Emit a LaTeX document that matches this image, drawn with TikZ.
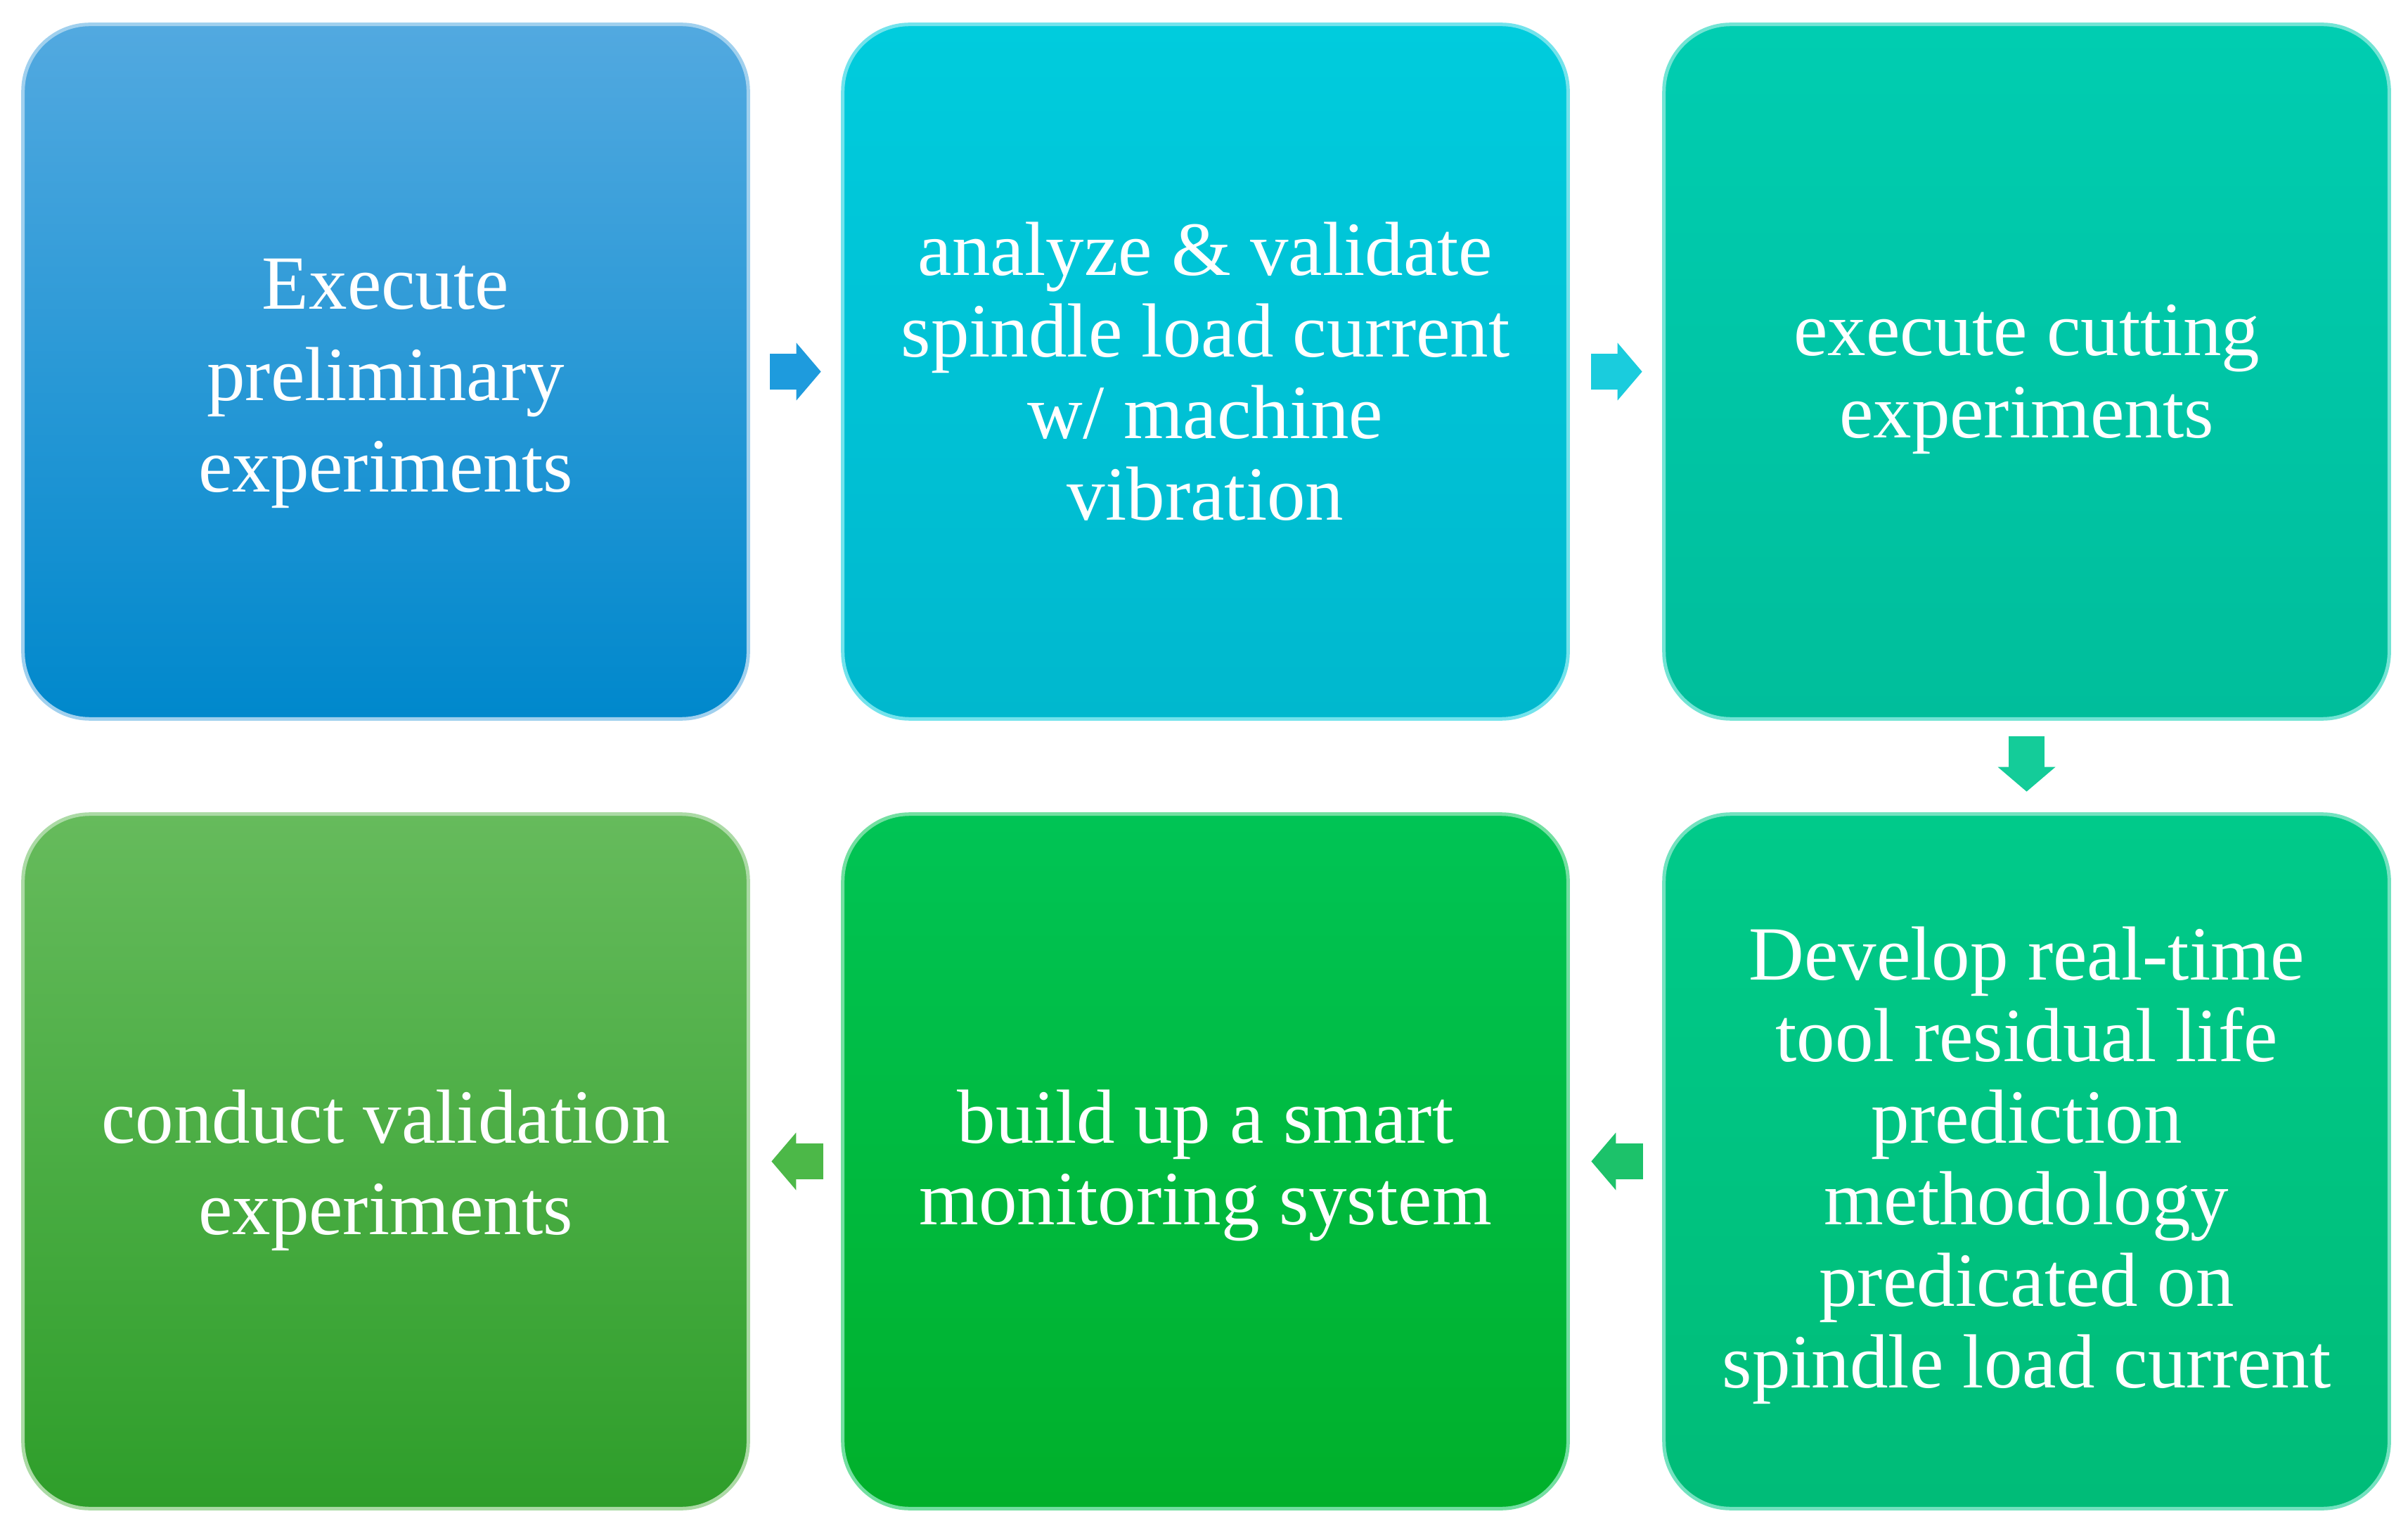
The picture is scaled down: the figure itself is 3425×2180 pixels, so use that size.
\documentclass[tikz,border=0pt]{standalone}
\usepackage{fontspec}
\setmainfont{Liberation Serif}
\usetikzlibrary{arrows.meta}
\definecolor{aTop}{HTML}{52A9E0}\definecolor{aBot}{HTML}{0088CC}
\definecolor{bTop}{HTML}{00CCDD}\definecolor{bBot}{HTML}{00B8CE}
\definecolor{cTop}{HTML}{00CDB1}\definecolor{cBot}{HTML}{00BE9B}
\definecolor{dTop}{HTML}{00CA8A}\definecolor{dBot}{HTML}{00BC78}
\definecolor{eTop}{HTML}{00C455}\definecolor{eBot}{HTML}{00B02A}
\definecolor{fTop}{HTML}{66BB5C}\definecolor{fBot}{HTML}{2E9E2A}
\definecolor{arA}{HTML}{1E9BDD}\definecolor{arB}{HTML}{1ACCDD}
\definecolor{arC}{HTML}{14CC99}\definecolor{arD}{HTML}{1CC26A}
\definecolor{arE}{HTML}{4CB848}
\tikzset{
  stepbox/.style n args={2}{rectangle, rounded corners=0.95cm,
    minimum width=10.31cm, minimum height=9.87cm, inner sep=0pt, outer sep=0pt,
    top color=#1, bottom color=#2, draw=#1!55!white, line width=0.05cm},
  txt/.style={text=white, align=center, inner sep=0pt, font=\fontsize{31pt}{33pt}\selectfont},
  txtwide/.style={txt, font=\fontsize{31pt}{37pt}\selectfont},
  blockarrow/.style={line width=0.51cm, draw=#1,
    -{Triangle[width=0.8cm,length=0.35cm,fill=#1]}}
}
\begin{document}
\begin{tikzpicture}[x=0.01cm,y=-0.01cm]
\useasboundingbox (0,0) rectangle (3425,2180);
\fill[white] (0,0) rectangle (3425,2180);
\node[stepbox={aTop}{aBot}] (n1) at (548.5,528.5) {};
\node[stepbox={bTop}{bBot}] (n2) at (1714.5,528.5) {};
\node[stepbox={cTop}{cBot}] (n3) at (2882.5,528.5) {};
\node[stepbox={dTop}{dBot}] (n4) at (2882.5,1651.5) {};
\node[stepbox={eTop}{eBot}] (n5) at (1714.5,1651.5) {};
\node[stepbox={fTop}{fBot}] (n6) at (548.5,1651.5) {};
\node[txtwide, yshift=-0.17cm] (t1) at (n1.center) {Execute\\preliminary\\experiments};
\node[txt] (t2) at (n2.center) {analyze \& validate\\spindle load current\\w/ machine\\vibration};
\node[txt, yshift=-0.11cm] (t3) at (n3.center) {execute cutting\\experiments};
\node[txt, yshift=-0.06cm] (t4) at (n4.center) {Develop real-time\\tool residual life\\prediction\\methodology\\predicated on\\spindle load current};
\node[txt, yshift=-0.06cm] (t5) at (n5.center) {build up a smart\\monitoring system};
\node[txtwide, yshift=-0.13cm] (t6) at (n6.center) {conduct validation\\experiments};
\draw[blockarrow=arA, shorten <=0.31cm, shorten >=0.31cm] (n1) -- (n2);
\draw[blockarrow=arB, shorten <=0.33cm, shorten >=0.31cm] (n2) -- (n3);
\draw[blockarrow=arC, shorten <=0.25cm, shorten >=0.32cm] (n3) -- (n4);
\draw[blockarrow=arD, shorten <=0.30cm, shorten >=0.33cm] (n4) -- (n5);
\draw[blockarrow=arE, shorten <=0.28cm, shorten >=0.33cm] (n5) -- (n6);
\end{tikzpicture}
\end{document}
